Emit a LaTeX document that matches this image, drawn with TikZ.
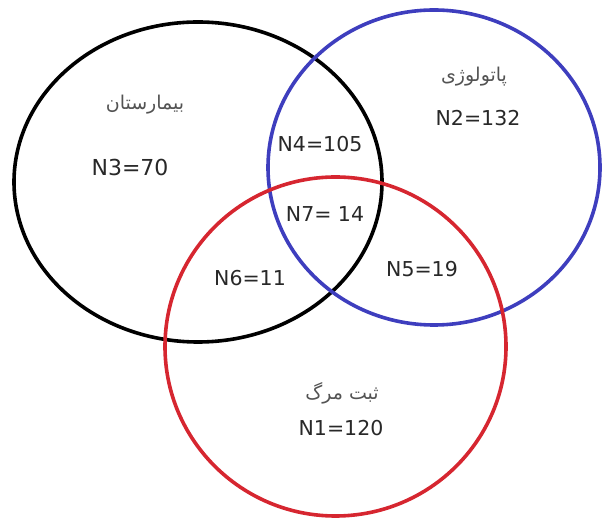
\documentclass[tikz,border=0pt]{standalone}
\usepackage{fontspec}
\setmainfont{DejaVu Sans}
\newfontfamily\persfont[Script=Arabic]{DejaVu Sans}
\TeXXeTstate=1
\definecolor{vblue}{RGB}{62,62,190}
\definecolor{vred}{RGB}{214,38,48}
\definecolor{vtext}{RGB}{40,40,40}
\tikzset{
  setline/.style={line width=3.6pt},
  count/.style={text=vtext,font=\fontsize{20.5}{23}\selectfont},
  setname/.style={text=vtext!80,font=\persfont\fontsize{19}{21}\selectfont}
}
\begin{document}
\begin{tikzpicture}[x=1pt,y=1pt]
	\useasboundingbox (0,0) rectangle (602,519);
	\draw[setline,black] (198,337) ellipse [x radius=184,y radius=160];
	\draw[setline,vblue] (434,351.5) ellipse [x radius=166,y radius=157.5];
	\draw[setline,vred] (335.5,172.5) ellipse [x radius=170.5,y radius=169.5];
	\node[setname] (hosp) at (145,414) {\beginR بیمارستان\endR};
	\node[setname] (path) at (474,442) {\beginR پاتولوژی\endR};
	\node[setname] (death) at (342,126) {\beginR ثبت مرگ\endR};
	\node[count,font=\fontsize{22}{24}\selectfont] (3) at (130,352) {N3=70};
	\node[count] (2) at (478,401) {N2=132};
	\node[count] (4) at (320,375) {N4=105};
	\node[count] (7) at (325,305) {N7= 14};
	\node[count] (6) at (250,241) {N6=11};
	\node[count] (5) at (422,250) {N5=19};
	\node[count] (1) at (341,91) {N1=120};
\end{tikzpicture}
\end{document}
